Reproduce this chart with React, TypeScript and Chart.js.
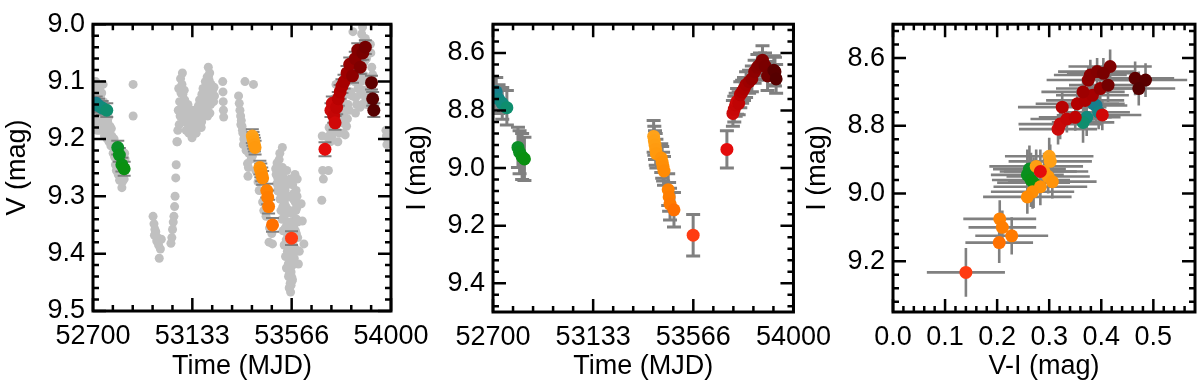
import { useEffect, useRef } from 'react';
import { Chart, registerables } from 'chart.js';

Chart.register(...registerables);

const FONT = '"Liberation Sans", Arial, Helvetica, sans-serif';

// ---------- tick values / labels ----------
const timeTicks = [52700, 53133.33, 53566.67, 54000];
const timeTickLabels = ['52700', '53133', '53566', '54000'];
const vTicks = [9.0, 9.1, 9.2, 9.3, 9.4, 9.5];
const iTicks = [8.6, 8.8, 9.0, 9.2, 9.4];
const iTicksCmd = [8.6, 8.8, 9.0, 9.2];
const viTicks = [0.0, 0.1, 0.2, 0.3, 0.4, 0.5];

// ---------- grey V light curve: [MJD, V] ----------
const greyEarly = [
  [52701, 9.140], [52702, 9.110], [52703, 9.175], [52704, 9.125], [52706, 9.150], [52707, 9.105],
  [52708, 9.165], [52709, 9.182], [52710, 9.118], [52711, 9.145], [52712, 9.100], [52713, 9.165],
  [52714, 9.135], [52716, 9.158], [52717, 9.112], [52718, 9.185], [52719, 9.120], [52721, 9.172],
  [52722, 9.145], [52724, 9.128], [52726, 9.165], [52727, 9.150], [52729, 9.185], [52730, 9.108],
  [52732, 9.128], [52733, 9.168], [52735, 9.182], [52736, 9.140], [52738, 9.120], [52740, 9.160],
  [52742, 9.178], [52744, 9.105], [52746, 9.135], [52748, 9.172], [52750, 9.195], [52752, 9.180],
  [52754, 9.168], [52756, 9.155], [52758, 9.178], [52760, 9.188], [52762, 9.200], [52764, 9.170],
  [52766, 9.185], [52768, 9.162], [52770, 9.205], [52772, 9.190], [52774, 9.178], [52776, 9.200],
  [52778, 9.212], [52780, 9.182], [52782, 9.195], [52785, 9.198], [52788, 9.225], [52790, 9.215],
  [52792, 9.200], [52795, 9.232], [52798, 9.245], [52800, 9.210], [52802, 9.255], [52805, 9.240],
  [52807, 9.225], [52810, 9.262], [52812, 9.248], [52814, 9.232], [52816, 9.272], [52818, 9.250],
  [52820, 9.238], [52822, 9.270], [52824, 9.258], [52826, 9.285], [52828, 9.275], [52830, 9.262],
  [52832, 9.250], [52834, 9.245], [52836, 9.270], [52838, 9.225], [52840, 9.235], [52875, 9.105],
  [52875, 9.160],
];
const greyDip = [
  [52962, 9.335], [52966, 9.348], [52970, 9.358], [52968, 9.368], [52974, 9.362], [52978, 9.378],
  [52982, 9.372], [52986, 9.385], [52989, 9.408], [52994, 9.392], [52998, 9.375], [53040, 9.382],
  [53044, 9.372], [53047, 9.358], [53050, 9.345], [53053, 9.335], [53056, 9.318], [53058, 9.300],
  [53061, 9.268], [53063, 9.245], [53066, 9.205],
];
const greyHump = [
  [53068, 9.205], [53070, 9.185], [53072, 9.150], [53074, 9.112], [53076, 9.175], [53078, 9.135],
  [53080, 9.160], [53082, 9.095], [53084, 9.120], [53086, 9.145], [53088, 9.105], [53090, 9.085],
  [53092, 9.122], [53094, 9.170], [53096, 9.152], [53098, 9.115], [53100, 9.132], [53102, 9.145],
  [53104, 9.162], [53106, 9.185], [53108, 9.142], [53110, 9.155], [53112, 9.172], [53114, 9.140],
  [53116, 9.155], [53118, 9.190], [53120, 9.165], [53122, 9.150], [53124, 9.182], [53126, 9.160],
  [53128, 9.172], [53130, 9.180], [53132, 9.198], [53134, 9.150], [53136, 9.162], [53138, 9.170],
  [53140, 9.185], [53142, 9.160], [53144, 9.172], [53146, 9.182], [53148, 9.150], [53150, 9.190],
  [53152, 9.178], [53154, 9.150], [53156, 9.160], [53158, 9.175], [53160, 9.142], [53162, 9.158],
  [53165, 9.132], [53166, 9.165], [53168, 9.140], [53170, 9.150], [53172, 9.180], [53174, 9.170],
  [53175, 9.122], [53178, 9.160], [53180, 9.112], [53182, 9.140], [53185, 9.130], [53186, 9.150],
  [53188, 9.120], [53190, 9.100], [53192, 9.135], [53194, 9.120], [53196, 9.140], [53198, 9.092],
  [53200, 9.160], [53201, 9.105], [53203, 9.075], [53204, 9.090], [53205, 9.120], [53206, 9.140],
  [53207, 9.098], [53209, 9.085], [53210, 9.155], [53211, 9.118], [53212, 9.130], [53213, 9.140],
  [53215, 9.105], [53217, 9.120], [53219, 9.130], [53222, 9.115], [53224, 9.128], [53226, 9.135],
  [53228, 9.110], [53230, 9.125], [53266, 9.100], [53267, 9.118], [53268, 9.135], [53269, 9.150],
  [53270, 9.162],
];
const greyDescent = [
  [53335, 9.125], [53338, 9.138], [53341, 9.150], [53344, 9.160], [53345, 9.175], [53347, 9.168],
  [53350, 9.178], [53352, 9.185], [53354, 9.190], [53356, 9.210], [53358, 9.200], [53363, 9.100],
  [53368, 9.220], [53372, 9.215], [53374, 9.243], [53376, 9.265], [53378, 9.250], [53380, 9.225],
  [53384, 9.200], [53390, 9.235], [53395, 9.230], [53400, 9.105], [53410, 9.255], [53420, 9.275],
  [53425, 9.290], [53440, 9.310], [53445, 9.325], [53455, 9.335], [53468, 9.380], [53470, 9.355],
  [53480, 9.365], [53483, 9.383],
];
const greyMinimum = [
  [53497, 9.252], [53499, 9.262], [53502, 9.278], [53503, 9.242], [53505, 9.290], [53506, 9.268],
  [53508, 9.250], [53510, 9.292], [53512, 9.236], [53513, 9.262], [53515, 9.225], [53516, 9.305],
  [53517, 9.282], [53519, 9.255], [53520, 9.325], [53521, 9.302], [53523, 9.285], [53524, 9.262],
  [53525, 9.340], [53526, 9.215], [53527, 9.250], [53528, 9.318], [53529, 9.360], [53531, 9.292],
  [53532, 9.272], [53533, 9.338], [53534, 9.385], [53535, 9.310], [53536, 9.330], [53537, 9.270],
  [53538, 9.290], [53539, 9.355], [53540, 9.405], [53541, 9.330], [53542, 9.318], [53543, 9.376],
  [53544, 9.425], [53545, 9.300], [53545, 9.255], [53546, 9.350], [53547, 9.280], [53548, 9.396],
  [53549, 9.345], [53550, 9.368], [53551, 9.395], [53552, 9.418], [53553, 9.440], [53554, 9.388],
  [53555, 9.365], [53555, 9.300], [53556, 9.436], [53556, 9.460], [53557, 9.325], [53558, 9.408],
  [53559, 9.380], [53559, 9.458], [53560, 9.452], [53560, 9.270], [53561, 9.430], [53562, 9.467],
  [53562, 9.300], [53563, 9.345], [53564, 9.432], [53564, 9.455], [53565, 9.385], [53566, 9.402],
  [53566, 9.440], [53567, 9.360], [53568, 9.448], [53569, 9.330], [53570, 9.420], [53570, 9.445],
  [53571, 9.280], [53572, 9.382], [53573, 9.415], [53574, 9.305], [53575, 9.352], [53576, 9.295],
  [53577, 9.325], [53578, 9.408], [53579, 9.345], [53580, 9.390], [53581, 9.262], [53582, 9.310],
  [53583, 9.360], [53584, 9.395], [53585, 9.325], [53586, 9.290], [53587, 9.365], [53588, 9.340],
  [53589, 9.320], [53590, 9.300], [53591, 9.270], [53592, 9.345], [53593, 9.372], [53594, 9.395],
  [53596, 9.418], [53600, 9.396], [53608, 9.313], [53613, 9.343], [53620, 9.383],
];
const greyRise = [
  [53698, 9.307], [53700, 9.195], [53702, 9.255], [53705, 9.270], [53724, 9.197], [53727, 9.255],
  [53730, 9.180], [53735, 9.205], [53737, 9.190], [53742, 9.195], [53745, 9.170], [53748, 9.150],
  [53752, 9.130], [53756, 9.185], [53760, 9.105], [53762, 9.175], [53765, 9.165], [53768, 9.205],
  [53770, 9.150], [53775, 9.190], [53778, 9.140], [53782, 9.172], [53786, 9.130], [53790, 9.150],
  [53792, 9.190], [53795, 9.160], [53800, 9.193], [53802, 9.140], [53806, 9.178], [53810, 9.165],
  [53812, 9.140], [53814, 9.100], [53816, 9.122], [53818, 9.150], [53822, 9.092], [53825, 9.118],
  [53828, 9.062], [53830, 9.125], [53834, 9.013], [53838, 9.080], [53840, 9.100], [53842, 9.060],
  [53845, 9.155], [53846, 9.128], [53850, 9.140], [53852, 9.090], [53856, 9.112], [53858, 9.040],
  [53862, 9.072], [53865, 9.145], [53866, 9.050], [53868, 9.122], [53870, 9.100], [53872, 9.017],
  [53874, 9.140], [53876, 9.005], [53880, 9.030], [53881, 9.115], [53884, 9.065], [53885, 9.090],
  [53888, 9.025], [53890, 9.130], [53893, 9.060], [53895, 9.140], [53898, 9.045], [53900, 9.100],
  [53902, 9.130], [53905, 9.120], [53910, 9.035], [53912, 9.050], [53916, 9.075], [53918, 9.115],
  [53920, 9.088], [53922, 9.140], [53978, 9.185], [53980, 9.195], [53982, 9.210], [53985, 9.200],
];

// ---------- coloured epochs (time order) ----------
const epochTime = [
  52705, 52714, 52724, 52740, 52760,
  52808, 52815, 52826, 52836,
  53395, 53398, 53401, 53404, 53407, 53428, 53432, 53436, 53440, 53458, 53462, 53466, 53483,
  53566,
  53712,
  53738, 53744, 53750, 53756, 53763, 53770, 53778, 53786, 53795, 53808, 53820, 53832, 53844, 53855, 53866, 53877, 53888, 53915, 53920, 53925,
];
const epochV = [
  9.140, 9.138, 9.142, 9.146, 9.150,
  9.215, 9.228, 9.245, 9.252,
  9.195, 9.200, 9.205, 9.210, 9.215, 9.250, 9.255, 9.262, 9.268, 9.290, 9.302, 9.318, 9.350,
  9.373,
  9.218,
  9.150, 9.138, 9.160, 9.172, 9.145, 9.130, 9.118, 9.108, 9.100, 9.085, 9.070, 9.090, 9.060, 9.045, 9.075, 9.050, 9.040, 9.102, 9.130, 9.150,
];
const epochI = [
  8.740, 8.735, 8.760, 8.775, 8.790,
  8.928, 8.945, 8.960, 8.968,
  8.890, 8.905, 8.920, 8.935, 8.950, 8.965, 8.980, 8.995, 9.010, 9.075, 9.100, 9.125, 9.145,
  9.233,
  8.935,
  8.810, 8.795, 8.780, 8.768, 8.775, 8.745, 8.735, 8.725, 8.710, 8.700, 8.690, 8.665, 8.650, 8.640, 8.625, 8.645, 8.680, 8.660, 8.665, 8.690,
];
const epochIErr = [
  0.055, 0.050, 0.050, 0.055, 0.060,
  0.070, 0.075, 0.080, 0.075,
  0.055, 0.050, 0.050, 0.055, 0.050, 0.050, 0.055, 0.050, 0.050, 0.055, 0.050, 0.055, 0.060,
  0.072,
  0.065,
  0.045, 0.045, 0.040, 0.045, 0.040, 0.045, 0.040, 0.040, 0.045, 0.040, 0.045, 0.040, 0.045, 0.040, 0.050, 0.045, 0.050, 0.050, 0.050, 0.050,
];
const epochVI = [
  0.390, 0.385, 0.395, 0.372, 0.365,
  0.262, 0.258, 0.265, 0.270,
  0.300, 0.302, 0.275, 0.290, 0.298, 0.306, 0.283, 0.268, 0.258, 0.205, 0.210, 0.228, 0.204,
  0.140,
  0.283,
  0.317, 0.321, 0.334, 0.402, 0.350, 0.325, 0.354, 0.369, 0.383, 0.365, 0.398, 0.375, 0.379, 0.392, 0.417, 0.404, 0.413, 0.465, 0.485, 0.472,
];
const epochVIErr = [
  0.060, 0.060, 0.060, 0.065, 0.060,
  0.070, 0.070, 0.075, 0.070,
  0.085, 0.080, 0.090, 0.085, 0.080, 0.085, 0.090, 0.080, 0.085, 0.070, 0.065, 0.070, 0.065,
  0.075,
  0.070,
  0.075, 0.080, 0.070, 0.075, 0.070, 0.085, 0.080, 0.075, 0.070, 0.080, 0.085, 0.080, 0.070, 0.075, 0.080, 0.070, 0.075, 0.075, 0.080, 0.070,
];
const epochColor = [
  '#1a7a92', '#167f8d', '#138586', '#118a7c', '#0e8e6e',
  '#0b8f28', '#0a901e', '#0a9016', '#0a9010',
  '#ffa21a', '#ffa015', '#ff9e12', '#ff9b10', '#ff990d', '#ff940a', '#ff9108', '#ff8e06', '#ff8b04', '#ff8202', '#ff7e00', '#ff7a00', '#ff7000',
  '#ff3c12',
  '#e40b0b',
  '#cc0a0a', '#c80808', '#c40606', '#d00808', '#c00404', '#b80202', '#b30000', '#ad0000', '#a60000', '#9e0000', '#960000', '#8f0000', '#890000', '#840000', '#800000', '#7a0000', '#740000', '#5e0000', '#5a0000', '#560000',
];
const vErrMag = 0.012;

// ---------- plugins ----------
function minorValues(scale: any, step: number) {
  const majors = scale.ticks.map((t: any) => t.value);
  const base = majors[0];
  const out: number[] = [];
  for (let k = -60; k <= 200; k++) {
    const v = base + k * step;
    if (v <= scale.min + step * 1e-3 || v >= scale.max - step * 1e-3) continue;
    if (majors.some((m: number) => Math.abs(m - v) < step * 0.05)) continue;
    out.push(v);
  }
  return out;
}

const idlFrame = {
  id: 'idlFrame',
  afterDraw(chart: any, _args: any, opts: any) {
    const { ctx, chartArea: a } = chart;
    const xs = chart.scales.x;
    const ys = chart.scales.y;
    const majorLen = 13;
    const minorLen = 6;
    ctx.save();
    ctx.strokeStyle = '#000';
    ctx.lineWidth = 2.5;
    ctx.lineCap = 'butt';
    const xTick = (v: number, len: number) => {
      const px = xs.getPixelForValue(v);
      ctx.beginPath();
      ctx.moveTo(px, a.bottom);
      ctx.lineTo(px, a.bottom - len);
      ctx.moveTo(px, a.top);
      ctx.lineTo(px, a.top + len);
      ctx.stroke();
    };
    const yTick = (v: number, len: number) => {
      const py = ys.getPixelForValue(v);
      ctx.beginPath();
      ctx.moveTo(a.left, py);
      ctx.lineTo(a.left + len, py);
      ctx.moveTo(a.right, py);
      ctx.lineTo(a.right - len, py);
      ctx.stroke();
    };
    xs.ticks.forEach((t: any) => xTick(t.value, majorLen));
    ys.ticks.forEach((t: any) => yTick(t.value, majorLen));
    minorValues(xs, opts.xMinor).forEach((v) => xTick(v, minorLen));
    minorValues(ys, opts.yMinor).forEach((v) => yTick(v, minorLen));
    ctx.lineWidth = 3;
    ctx.strokeRect(a.left, a.top, a.right - a.left, a.bottom - a.top);
    ctx.restore();
  },
};

const errorBars = {
  id: 'errorBars',
  beforeDatasetDraw(chart: any, args: any) {
    const ds = chart.data.datasets[args.index];
    const eb = ds && ds.errorBars;
    if (!eb) return;
    const { ctx, chartArea: a } = chart;
    const xs = chart.scales.x;
    const ys = chart.scales.y;
    ctx.save();
    ctx.beginPath();
    ctx.rect(a.left, a.top, a.right - a.left, a.bottom - a.top);
    ctx.clip();
    ctx.strokeStyle = eb.color;
    ctx.lineWidth = eb.width;
    ctx.lineCap = 'butt';
    ds.data.forEach((p: any, i: number) => {
      const px = xs.getPixelForValue(p.x);
      const py = ys.getPixelForValue(p.y);
      ctx.beginPath();
      if (eb.ey) {
        const e = typeof eb.ey === 'number' ? eb.ey : eb.ey[i];
        const y1 = ys.getPixelForValue(p.y - e);
        const y2 = ys.getPixelForValue(p.y + e);
        ctx.moveTo(px, y1);
        ctx.lineTo(px, y2);
        if (eb.cap) {
          ctx.moveTo(px - eb.cap, y1);
          ctx.lineTo(px + eb.cap, y1);
          ctx.moveTo(px - eb.cap, y2);
          ctx.lineTo(px + eb.cap, y2);
        }
      }
      if (eb.ex) {
        const e = eb.ex[i];
        const x1 = xs.getPixelForValue(p.x - e);
        const x2 = xs.getPixelForValue(p.x + e);
        ctx.moveTo(x1, py);
        ctx.lineTo(x2, py);
      }
      ctx.stroke();
    });
    ctx.restore();
  },
};

// ---------- chart config ----------
const axisFont = () => ({ family: FONT, size: 27 });

function buildOptions(p: any) {
  return {
    responsive: false,
    animation: false,
    events: [],
    layout: { autoPadding: false, padding: { left: 0, top: 10, right: p.rightPad, bottom: 0 } },
    plugins: {
      legend: { display: false },
      tooltip: { enabled: false },
      idlFrame: { xMinor: p.xMinor, yMinor: p.yMinor },
    },
    scales: {
      x: {
        type: 'linear',
        position: 'bottom',
        min: p.xMin,
        max: p.xMax,
        grid: { display: false, drawTicks: false },
        border: { display: false },
        afterBuildTicks: (s: any) => {
          s.ticks = p.xTicks.map((v: number) => ({ value: v }));
        },
        afterFit: (s: any) => {
          s.height = p.xHeight;
        },
        ticks: {
          autoSkip: false,
          maxRotation: 0,
          minRotation: 0,
          padding: 9,
          color: '#000',
          font: axisFont(),
          callback: p.xFormat,
        },
        title: { display: true, text: p.xTitle, color: '#000', font: axisFont(), padding: { top: 0, bottom: 5 } },
      },
      y: {
        type: 'linear',
        position: 'left',
        reverse: true,
        min: p.yMin,
        max: p.yMax,
        grid: { display: false, drawTicks: false },
        border: { display: false },
        afterBuildTicks: (s: any) => {
          s.ticks = p.yTicks.map((v: number) => ({ value: v }));
        },
        afterFit: (s: any) => {
          s.width = 93;
        },
        ticks: {
          autoSkip: false,
          padding: 8,
          color: '#000',
          font: axisFont(),
          callback: (v: any) => Number(v).toFixed(1),
        },
        title: { display: true, text: p.yTitle, color: '#000', font: axisFont(), padding: { top: 1, bottom: 0 } },
      },
    },
  };
}

const timeFormat = (_v: any, i: number) => timeTickLabels[i];
const oneDecimal = (v: any) => Number(v).toFixed(1);

export default function App() {
  const c1 = useRef<HTMLCanvasElement>(null);
  const c2 = useRef<HTMLCanvasElement>(null);
  const c3 = useRef<HTMLCanvasElement>(null);

  useEffect(() => {
    const greyAll = [...greyEarly, ...greyDip, ...greyHump, ...greyDescent, ...greyMinimum, ...greyRise];
    const greyPts = greyAll.map(([t, v]) => ({ x: t, y: v }));
    const vPts = epochTime.map((t, i) => ({ x: t, y: epochV[i] }));
    const iPts = epochTime.map((t, i) => ({ x: t, y: epochI[i] }));
    const cmdPts = epochVI.map((vi, i) => ({ x: vi, y: epochI[i] }));

    const coloured = (data: any[], eb: any, r: number) => ({
      data,
      pointBackgroundColor: epochColor,
      pointBorderWidth: 0,
      pointRadius: r,
      pointHoverRadius: r,
      showLine: false,
      errorBars: eb,
    });

    const chart1 = new Chart(c1.current as HTMLCanvasElement, {
      type: 'scatter',
      data: {
        datasets: [
          coloured(vPts, { ey: vErrMag, cap: 6.5, color: '#808080', width: 2 }, 6.5),
          {
            data: greyPts,
            pointBackgroundColor: '#c0c0c0',
            pointBorderWidth: 0,
            pointRadius: 4.5,
            pointHoverRadius: 4.5,
            showLine: false,
          },
        ],
      } as any,
      options: buildOptions({
        rightPad: 49, xHeight: 77,
        xMin: 52700, xMax: 54000, xTicks: timeTicks, xFormat: timeFormat, xTitle: 'Time (MJD)', xMinor: 433.333 / 5,
        yMin: 9.0, yMax: 9.5, yTicks: vTicks, yTitle: 'V (mag)', yMinor: 0.02,
      }) as any,
      plugins: [errorBars, idlFrame],
    });

    const chart2 = new Chart(c2.current as HTMLCanvasElement, {
      type: 'scatter',
      data: {
        datasets: [coloured(iPts, { ey: epochIErr, cap: 7, color: '#808080', width: 3 }, 6.5)],
      } as any,
      options: buildOptions({
        rightPad: 43, xHeight: 76,
        xMin: 52700, xMax: 54000, xTicks: timeTicks, xFormat: timeFormat, xTitle: 'Time (MJD)', xMinor: 433.333 / 5,
        yMin: 8.5, yMax: 9.5, yTicks: iTicks, yTitle: 'I (mag)', yMinor: 0.04,
      }) as any,
      plugins: [errorBars, idlFrame],
    });

    const chart3 = new Chart(c3.current as HTMLCanvasElement, {
      type: 'scatter',
      data: {
        datasets: [coloured(cmdPts, { ey: epochIErr, ex: epochVIErr, cap: 0, color: '#808080', width: 2.6 }, 6.5)],
      } as any,
      options: buildOptions({
        rightPad: 5, xHeight: 76,
        xMin: 0, xMax: 0.58, xTicks: viTicks, xFormat: oneDecimal, xTitle: 'V-I (mag)', xMinor: 0.02,
        yMin: 8.5, yMax: 9.35, yTicks: iTicksCmd, yTitle: 'I (mag)', yMinor: 0.04,
      }) as any,
      plugins: [errorBars, idlFrame],
    });

    return () => {
      chart1.destroy();
      chart2.destroy();
      chart3.destroy();
    };
  }, []);

  const cs = (left: number, width: number) => ({
    position: 'absolute' as const,
    left,
    top: 0,
    width,
    height: 388,
  });

  return (
    <div style={{ position: 'absolute', left: 0, top: 0, width: 1200, height: 388, background: '#fff', overflow: 'hidden' }}>
      <canvas ref={c1} width={440} height={388} style={cs(0, 440)} />
      <canvas ref={c2} width={440} height={388} style={cs(400, 440)} />
      <canvas ref={c3} width={400} height={388} style={cs(800, 400)} />
    </div>
  );
}
